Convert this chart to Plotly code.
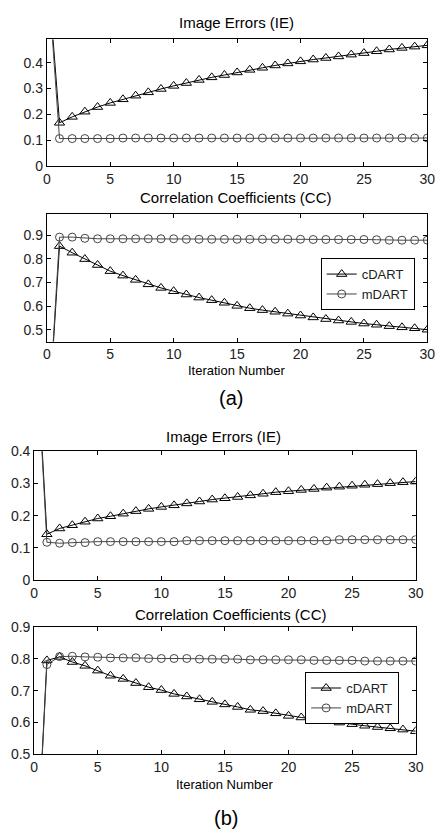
import plotly.graph_objects as go

W, H = 448, 837

iterations = list(range(0, 31))

# (a) Image Errors
ie_a_cdart = [0.80, 0.167, 0.19, 0.21, 0.228, 0.244, 0.258, 0.272, 0.285, 0.298, 0.31,
              0.321, 0.333, 0.343, 0.352, 0.362, 0.372, 0.38, 0.389, 0.397, 0.405,
              0.412, 0.418, 0.424, 0.431, 0.437, 0.444, 0.451, 0.457, 0.462, 0.467]
ie_a_mdart = [0.80, 0.106, 0.106, 0.106, 0.106, 0.106, 0.108, 0.108, 0.108, 0.108, 0.108,
              0.108, 0.108, 0.108, 0.108, 0.108, 0.108, 0.108, 0.108, 0.108, 0.108,
              0.108, 0.108, 0.108, 0.108, 0.108, 0.108, 0.108, 0.108, 0.108, 0.108]
# (a) Correlation Coefficients
cc_a_cdart = [0.0, 0.854, 0.826, 0.799, 0.774, 0.748, 0.729, 0.711, 0.692, 0.677, 0.663,
              0.649, 0.636, 0.625, 0.614, 0.601, 0.591, 0.583, 0.576, 0.568, 0.56,
              0.552, 0.545, 0.539, 0.533, 0.526, 0.521, 0.515, 0.51, 0.506, 0.5]
cc_a_mdart = [0.0, 0.892, 0.892, 0.887, 0.885, 0.885, 0.885, 0.885, 0.885, 0.885, 0.885,
              0.883, 0.883, 0.883, 0.883, 0.883, 0.883, 0.883, 0.883, 0.883, 0.883,
              0.882, 0.882, 0.882, 0.882, 0.882, 0.881, 0.879, 0.879, 0.879, 0.879]
# (b) Image Errors
ie_b_cdart = [0.85, 0.142, 0.16, 0.17, 0.181, 0.191, 0.198, 0.206, 0.214, 0.221, 0.227,
              0.232, 0.238, 0.244, 0.25, 0.254, 0.258, 0.263, 0.268, 0.273, 0.276,
              0.28, 0.283, 0.287, 0.29, 0.293, 0.296, 0.298, 0.301, 0.304, 0.306]
ie_b_mdart = [0.85, 0.117, 0.114, 0.116, 0.116, 0.119, 0.119, 0.119, 0.119, 0.119, 0.119,
              0.119, 0.122, 0.122, 0.122, 0.122, 0.122, 0.122, 0.122, 0.122, 0.122,
              0.122, 0.122, 0.122, 0.125, 0.125, 0.125, 0.125, 0.125, 0.125, 0.125]
# (b) Correlation Coefficients
cc_b_cdart = [0.0, 0.795, 0.806, 0.79, 0.778, 0.763, 0.747, 0.737, 0.724, 0.711, 0.702,
              0.69, 0.682, 0.673, 0.665, 0.657, 0.649, 0.64, 0.636, 0.629, 0.621,
              0.616, 0.611, 0.605, 0.6, 0.595, 0.59, 0.586, 0.582, 0.578, 0.573]
cc_b_mdart = [0.0, 0.782, 0.807, 0.808, 0.806, 0.805, 0.803, 0.803, 0.803, 0.801, 0.801,
              0.801, 0.801, 0.799, 0.799, 0.799, 0.799, 0.797, 0.797, 0.797, 0.797,
              0.797, 0.795, 0.795, 0.795, 0.795, 0.793, 0.793, 0.793, 0.793, 0.793]

x_ticks = [0, 5, 10, 15, 20, 25, 30]
ie_a_ticks = [0, 0.1, 0.2, 0.3, 0.4]
cc_a_ticks = [0.5, 0.6, 0.7, 0.8, 0.9]
ie_b_ticks = [0, 0.1, 0.2, 0.3, 0.4]
cc_b_ticks = [0.5, 0.6, 0.7, 0.8, 0.9]

title_ie = "Image Errors (IE)"
title_cc = "Correlation Coefficients (CC)"
xlabel = "Iteration Number"
series_names = ["cDART", "mDART"]

FONT = "Liberation Sans, Arial, sans-serif"
C_CDART = "black"
C_MDART = "#454545"


def py(p):
    return 1 - p / H


def px(p):
    return p / W


fig = go.Figure()

panels = [
    ("x", "y", ie_a_cdart, ie_a_mdart, None),
    ("x2", "y2", cc_a_cdart, cc_a_mdart, "legend"),
    ("x3", "y3", ie_b_cdart, ie_b_mdart, None),
    ("x4", "y4", cc_b_cdart, cc_b_mdart, "legend2"),
]

for xa, ya, cd, md, leg in panels:
    kw = dict(showlegend=leg is not None)
    if leg is not None:
        kw["legend"] = leg
    fig.add_trace(go.Scatter(
        x=iterations, y=cd, name=series_names[0], mode="lines+markers",
        xaxis=xa, yaxis=ya,
        line=dict(color=C_CDART, width=1),
        marker=dict(symbol="triangle-up-open", size=9, color=C_CDART,
                    line=dict(width=1, color=C_CDART)),
        **kw))
    fig.add_trace(go.Scatter(
        x=iterations, y=md, name=series_names[1], mode="lines+markers",
        xaxis=xa, yaxis=ya,
        line=dict(color=C_MDART, width=1),
        marker=dict(symbol="circle-open", size=8, color=C_MDART,
                    line=dict(width=1, color=C_MDART)),
        **kw))

axis_common = dict(
    showline=True, linecolor="black", linewidth=1, mirror="ticks",
    ticks="inside", ticklen=4, tickcolor="black", tickwidth=1,
    showgrid=False, zeroline=False,
    tickfont=dict(family=FONT, size=14, color="#222"),
)

xa_dom = [px(44), px(435)]
xb_dom = [px(31), px(423)]
dom1 = [py(161), py(32)]
dom2 = [py(340), py(210)]
dom3 = [py(583), py(452)]
dom4 = [py(761), py(631)]

legend_style = dict(
    bgcolor="white", bordercolor="black", borderwidth=1,
    font=dict(family=FONT, size=13, color="#222"),
    itemwidth=30, tracegroupgap=0,
)

fig.update_layout(
    width=W, height=H,
    margin=dict(l=0, r=0, t=0, b=0),
    paper_bgcolor="white", plot_bgcolor="white",
    font=dict(family=FONT, color="black"),
    xaxis=dict(domain=xa_dom, range=[0, 30], tickvals=x_ticks, anchor="y", **axis_common),
    yaxis=dict(domain=dom1, range=[0, 0.49], tickvals=ie_a_ticks, anchor="x", **axis_common),
    xaxis2=dict(domain=xa_dom, range=[0, 30], tickvals=x_ticks, anchor="y2", **axis_common),
    yaxis2=dict(domain=dom2, range=[0.45, 0.99], tickvals=cc_a_ticks, anchor="x2", **axis_common),
    xaxis3=dict(domain=xb_dom, range=[0, 30], tickvals=x_ticks, anchor="y3", **axis_common),
    yaxis3=dict(domain=dom3, range=[0, 0.4], tickvals=ie_b_ticks, anchor="x3", **axis_common),
    xaxis4=dict(domain=xb_dom, range=[0, 30], tickvals=x_ticks, anchor="y4", **axis_common),
    yaxis4=dict(domain=dom4, range=[0.5, 0.9], tickvals=cc_b_ticks, anchor="x4", **axis_common),
    legend=dict(x=px(422), xanchor="right", y=py(255), yanchor="top", **legend_style),
    legend2=dict(x=px(406), xanchor="right", y=py(677), yanchor="top", **legend_style),
)

texts = [
    (title_ie, 239, 15, 15),
    (title_cc, 238, 193, 15),
    (xlabel, 239, 370, 13),
    ("(a)", 233, 398, 20),
    (title_ie, 226, 437, 15),
    (title_cc, 233, 618, 15),
    (xlabel, 227, 792, 13),
    ("(b)", 228, 826, 20),
]
for t, cx, cy, fs in texts:
    fig.add_annotation(
        text=t, x=px(cx), y=py(cy), xref="paper", yref="paper",
        xanchor="center", yanchor="middle", showarrow=False,
        font=dict(family=FONT, size=fs, color="black"),
    )

fig.write_html(
    "out.html",
    config={"displayModeBar": False},
    post_script="document.body.style.margin='0';document.body.style.overflow='hidden';",
)
